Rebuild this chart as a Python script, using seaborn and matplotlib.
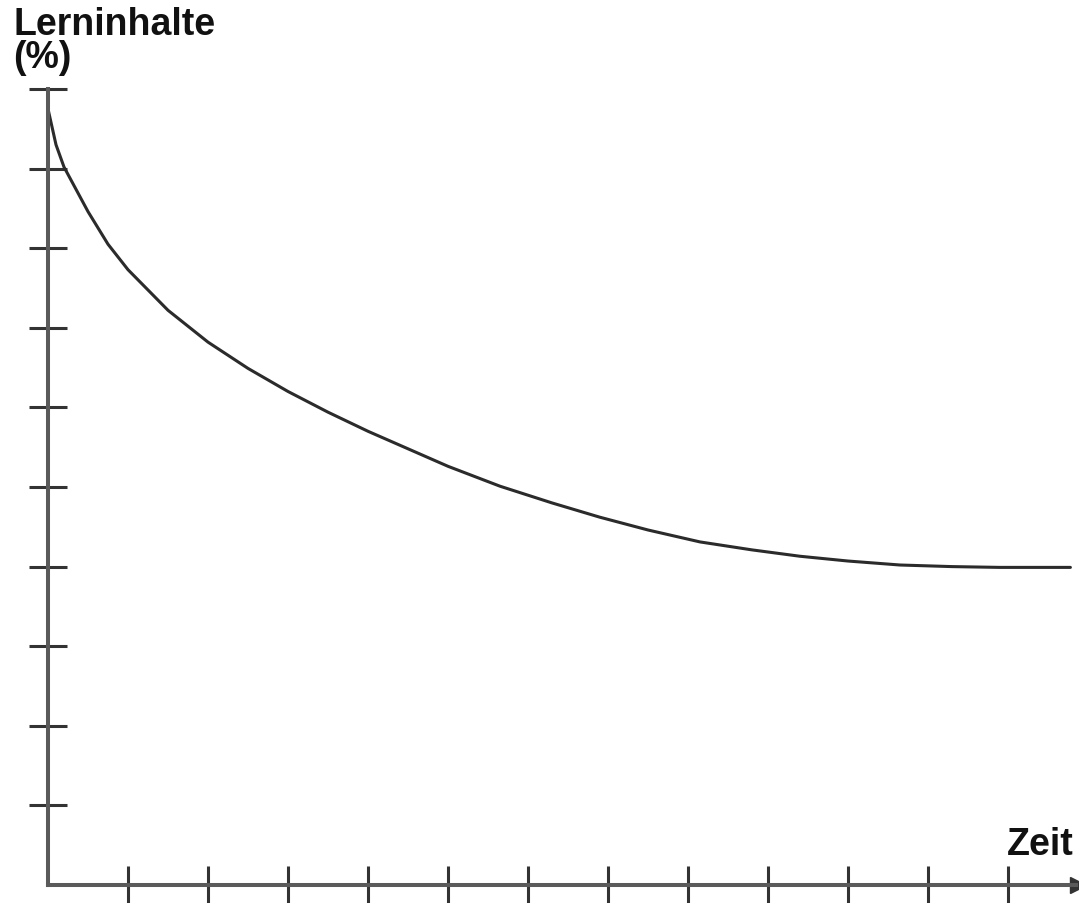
import matplotlib
matplotlib.use("Agg")
import matplotlib.pyplot as plt
import seaborn as sns
import pandas as pd

# Data (time units, retained learning content in %)
zeit = [0.0, 0.1, 0.2, 0.5, 0.75, 1.0, 1.5, 2.0, 2.5, 3.0, 3.5, 4.0, 4.5, 5.0,
        5.65, 6.3, 6.9, 7.5, 8.15, 8.8, 9.4, 10.0, 10.65, 11.3, 11.9, 12.78]
lerninhalte = [97.5, 93.0, 90.2, 84.6, 80.5, 77.3, 72.2, 68.2, 64.9, 62.0, 59.4, 57.0, 54.8, 52.6,
               50.1, 48.0, 46.2, 44.6, 43.1, 42.1, 41.3, 40.7, 40.2, 40.0, 39.9, 39.9]
x_ticks = [1, 2, 3, 4, 5, 6, 7, 8, 9, 10, 11, 12]
y_ticks = [10, 20, 30, 40, 50, 60, 70, 80, 90, 100]
y_label_lines = ["Lerninhalte", "(%)"]
x_label = "Zeit"

sns.set_style("white")
plt.rcParams["font.family"] = ["Liberation Sans", "DejaVu Sans"]

W, H = 1079, 904
fig = plt.figure(figsize=(W / 100, H / 100), dpi=100)
ax = fig.add_axes([0, 0, 1, 1])

df = pd.DataFrame({"Zeit": zeit, "Lerninhalte": lerninhalte})
sns.lineplot(data=df, x="Zeit", y="Lerninhalte", ax=ax, color="#2b2b2b", linewidth=2.2)

# pixel mapping: x px = 48 + 80*x ; y px = 886 - 7.96*y
ax.set_xlim(-48 / 80, (W - 48) / 80)
ax.set_ylim((886 - H) / 7.96, 886 / 7.96)

for s in ["top", "right"]:
    ax.spines[s].set_visible(False)
ax.spines["left"].set_position(("data", 0))
ax.spines["bottom"].set_position(("data", 0))
ax.spines["left"].set_bounds(0, 100)
ax.spines["bottom"].set_bounds(0, 12.85)
for s in ["left", "bottom"]:
    ax.spines[s].set_color("#5a5a5a")
    ax.spines[s].set_linewidth(2.9)

ax.set_xticks(x_ticks)
ax.set_yticks(y_ticks)
ax.set_xticklabels([])
ax.set_yticklabels([])
ax.tick_params(axis="both", which="major", bottom=True, left=True, top=False, right=False,
               direction="inout", length=27, width=2.2, color="#333333")
ax.set_xlabel("")
ax.set_ylabel("")

# arrow head at end of time axis
ax.plot([12.88], [0], marker=">", markersize=12, color="#333333", clip_on=False)

fs = 27
fig.text(13 / W, 1 - 35 / H, y_label_lines[0], fontsize=fs, fontweight="bold",
         ha="left", va="baseline", color="#111111")
fig.text(13 / W, 1 - 68 / H, y_label_lines[1], fontsize=fs, fontweight="bold",
         ha="left", va="baseline", color="#111111")
fig.text(1074 / W, 1 - 855 / H, x_label, fontsize=fs, fontweight="bold",
         ha="right", va="baseline", color="#111111")

fig.savefig("out.png", dpi=100, facecolor="white")
